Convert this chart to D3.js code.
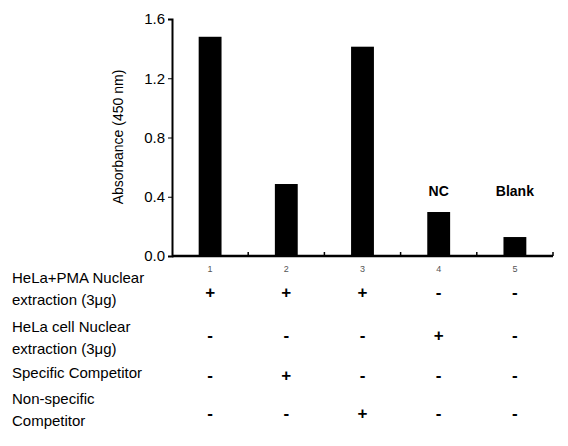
<!DOCTYPE html><html><head><script src="https://cdn.jsdelivr.net/npm/d3@7"></script>
<style>body{margin:0;background:#fff}text{font-family:"Liberation Sans",Arial,sans-serif}</style></head><body>
<svg id="c" width="568" height="446"></svg>
<script>
const categories=["1","2","3","4","5"];
const values=[1.48,0.486,1.413,0.297,0.128];
const barLabels=["","","","NC","Blank"];
const yTicks=[0,0.4,0.8,1.2,1.6];
const rowLabels=[["HeLa+PMA Nuclear","extraction (3μg)"],["HeLa cell Nuclear","extraction (3μg)"],["Specific Competitor"],["Non-specific","Competitor"]];
const signs=[["+","+","+","-","-"],["-","-","-","+","-"],["-","+","-","-","-"],["-","-","+","-","-"]];
const svg=d3.select("#c");
const x=d3.scaleBand().domain(categories).range([172,553]).paddingInner(0.7).paddingOuter(0.35);
const y=d3.scaleLinear().domain([0,1.6]).range([256,19]);
svg.selectAll("rect.b").data(values).join("rect").attr("x",(d,i)=>x(categories[i])).attr("width",x.bandwidth()).attr("y",d=>y(d)).attr("height",d=>y(0)-y(d)).attr("fill","#000");
const ya=svg.append("g").attr("transform","translate(172,0)").call(d3.axisLeft(y).tickValues(yTicks).tickFormat(d3.format(".1f")).tickSize(4));
ya.select(".domain").attr("stroke-width",2);
ya.selectAll("text").attr("font-size",15).attr("fill","#000");
// x axis
svg.append("line").attr("x1",172).attr("x2",553).attr("y1",256).attr("y2",256).attr("stroke","#000").attr("stroke-width",2.5);
const step=x.step();
svg.selectAll("line.xt").data(categories).join("line").attr("x1",(d,i)=>172+step*(i+1)).attr("x2",(d,i)=>172+step*(i+1)).attr("y1",256).attr("y2",252).attr("stroke","#000").attr("stroke-width",1.5);
svg.selectAll("text.n").data(categories).join("text").attr("x",d=>x(d)+x.bandwidth()/2).attr("y",272).attr("text-anchor","middle").attr("font-size",9).attr("fill","#555").text(d=>d);
svg.selectAll("text.bl").data(barLabels).join("text").attr("x",(d,i)=>x(categories[i])+x.bandwidth()/2).attr("y",196).attr("text-anchor","middle").attr("font-size",14).attr("font-weight","bold").text(d=>d);
svg.append("text").attr("transform","translate(123,137) rotate(-90)").attr("text-anchor","middle").attr("font-size",14).text("Absorbance (450 nm)");
const rowY=[[278,300],[327,349],[373],[399,421]];
const signY=[293,336,376,414];
rowLabels.forEach((ls,r)=>{
 ls.forEach((l,k)=>svg.append("text").attr("x",12).attr("y",rowY[r][k]+5).attr("font-size",15).text(l));
 svg.selectAll(null).data(signs[r]).join("text").attr("x",(d,i)=>x(categories[i])+x.bandwidth()/2).attr("y",signY[r]+5).attr("text-anchor","middle").attr("font-size",17).attr("font-weight","bold").text(d=>d);
});
</script></body></html>
